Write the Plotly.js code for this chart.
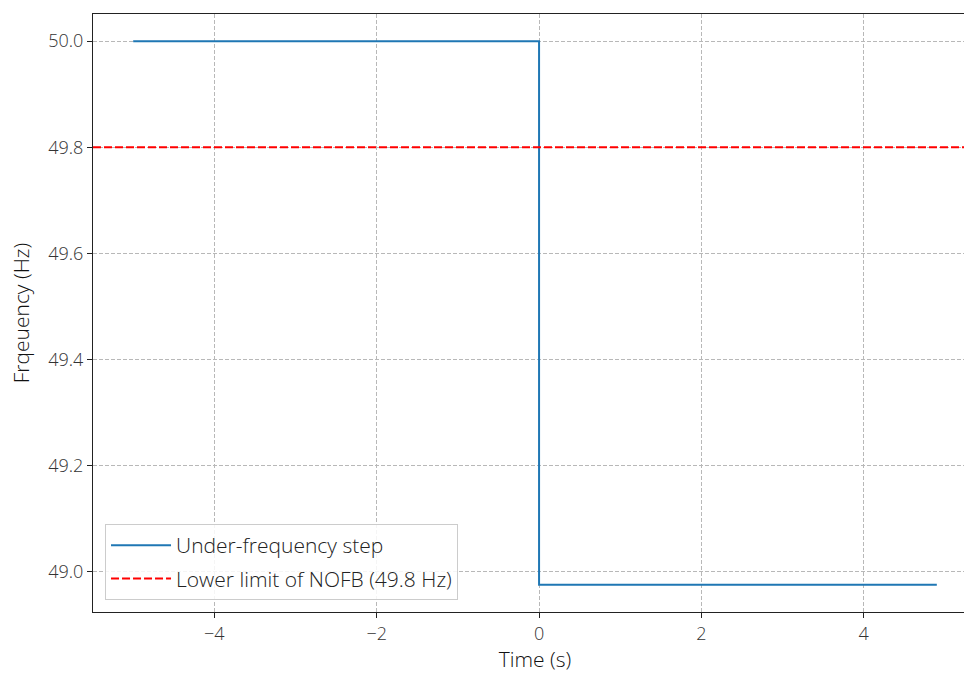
<!DOCTYPE html>
<html>
<head>
<meta charset="utf-8">
<script src="https://cdn.plot.ly/plotly-3.0.1.min.js"></script>
<style>
html,body{margin:0;padding:0;overflow:hidden;background:#fff;}
#chart{width:980px;height:675px;}
</style>
</head>
<body>
<div id="chart"></div>
<script>
// Data
const stepTime = [-5, 0, 0, 4.9];
const stepFreq = [50.0, 50.0, 48.975, 48.975];
const nofbLimit = 49.8;
const stepName = "Under-frequency step";
const limitName = "Lower limit of NOFB (49.8 Hz)";
const xTicks = [-4, -2, 0, 2, 4];
const xTickText = ["\u22124", "\u22122", "0", "2", "4"];
const yTicks = [49.0, 49.2, 49.4, 49.6, 49.8, 50.0];
const yTickText = ["49.0", "49.2", "49.4", "49.6", "49.8", "50.0"];

const font = "Open Sans, Noto Sans, DejaVu Sans, sans-serif";

const traces = [{
  x: stepTime, y: stepFreq, type: "scatter", mode: "lines",
  name: stepName, legendgroup: "a", line: {color: "#1f77b4", width: 2}
}];

const xmin = Math.min(...stepTime), xmax = Math.max(...stepTime);
const ymin = Math.min(...stepFreq), ymax = Math.max(...stepFreq);
const xpad = (xmax - xmin) * 0.05, ypad = (ymax - ymin) * 0.05;

const axisCommon = {
  showline: true, mirror: true, linecolor: "#222", linewidth: 1,
  ticks: "outside", ticklen: 5, tickcolor: "#222", tickwidth: 1,
  showgrid: true, gridcolor: "#b8b8b8", griddash: "4px,2px", gridwidth: 1,
  zeroline: false,
  tickfont: {family: font, size: 18, color: "#333", weight: 300}
};

const layout = {
  width: 980, height: 675,
  margin: {l: 93, r: 3, t: 14, b: 63},
  paper_bgcolor: "#fff", plot_bgcolor: "#fff",
  font: {family: font, color: "#222"},
  xaxis: Object.assign({}, axisCommon, {
    range: [xmin - xpad, xmax + xpad],
    tickvals: xTicks, ticktext: xTickText,
    title: {text: "Time (s)", font: {family: font, size: 21, color: "#111", weight: 300}, standoff: 6}
  }),
  yaxis: Object.assign({}, axisCommon, {
    range: [ymin - ypad, ymax + ypad],
    tickvals: yTicks, ticktext: yTickText,
    title: {text: "Frqeuency (Hz)", font: {family: font, size: 21, color: "#111", weight: 300}, standoff: 12}
  }),
  shapes: [{
    type: "line", xref: "paper", x0: 0, x1: 1, yref: "y", y0: nofbLimit, y1: nofbLimit,
    line: {color: "#ff0000", width: 2, dash: "8px,3px"},
    showlegend: true, name: limitName, legendgroup: "b"
  }],
  legend: {
    x: 0.0136, y: 0.02, xanchor: "left", yanchor: "bottom",
    bgcolor: "rgba(255,255,255,0.85)", bordercolor: "#cccccc", borderwidth: 1,
    font: {family: font, size: 21, color: "#222", weight: 300},
    traceorder: "grouped", tracegroupgap: 3, itemwidth: 60
  },
  showlegend: true
};

Plotly.newPlot("chart", traces, layout, {displayModeBar: false, staticPlot: true});
</script>
</body>
</html>
